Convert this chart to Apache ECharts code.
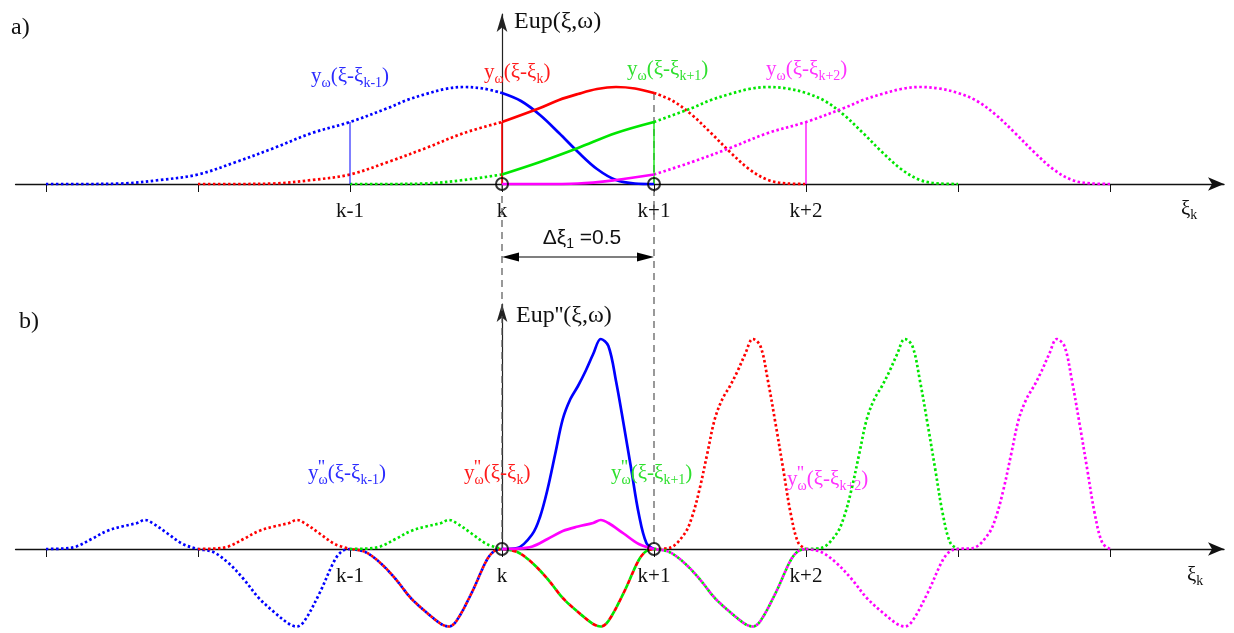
<!DOCTYPE html>
<html>
<head>
<meta charset="utf-8">
<script src="https://cdn.jsdelivr.net/npm/echarts@6.0.0/dist/echarts.min.js"></script>
<style>
  html, body { margin: 0; padding: 0; background: #fff; }
  #chart { width: 1234px; height: 633px; }
</style>
</head>
<body>
<div id="chart"></div>
<script>
// Eup(xi, w): profile read off panel a), t = distance from left end of the support
const upT = [0, 0.25, 0.5, 0.75, 1, 1.25, 1.5, 1.75, 2, 2.25, 2.375, 2.5, 2.625, 2.75, 2.875,
  3, 3.125, 3.25, 3.375, 3.5, 3.625, 3.75, 3.875, 4];
const upY = [0, 0, 0.5, 4, 9.5, 22, 36, 51, 62, 76, 84, 90, 95, 97, 95.5,
  91, 83, 69, 51, 32, 15, 4, 0.5, 0];

// Eup''(xi, w): profile read off panel b)
const d2T = [0, 0.1, 0.2, 0.3, 0.4, 0.5, 0.6, 0.65, 0.7, 0.8, 0.9, 1,
  1.1, 1.2, 1.3, 1.4, 1.5, 1.6, 1.65, 1.7, 1.8, 1.9, 1.95, 2,
  2.1, 2.2, 2.3, 2.4, 2.5, 2.6, 2.65, 2.7, 2.8, 2.9, 2.95, 3,
  3.1, 3.2, 3.25, 3.3, 3.35, 3.4, 3.45, 3.5, 3.55, 3.6, 3.65, 3.7, 3.75, 3.8, 3.85, 3.9, 3.95, 4];
const d2Y = [0, 0.3, 2.5, 10, 18, 22.5, 26, 29, 26, 15.5, 5, 0,
  -3, -14, -30, -49, -63, -75, -77.5, -72, -44, -11, -2, 0,
  -3, -14, -30, -49, -63, -75, -77.5, -72, -44, -11, -2, 0,
  1, 15, 32, 60, 95, 130, 150, 163, 178, 195, 210, 203, 168, 125, 80, 35, 6, 0];

// shifted copies y_w(xi - xi_j), j = k-1 .. k+2 (support starts at j-2)
const curveSubs = ['k-1', 'k', 'k+1', 'k+2'];
const curveShift = [-3, -2, -1, 0];
const curveColors = ['#0000ff', '#ff0000', '#00e600', '#ff00ff'];
const labelColors = ['#2b2bff', '#ff1a1a', '#2ee02e', '#ff33ff'];

// where two curves lie on top of each other in panel b): [unit, curve, curve]
const overlaps = [[-1, 0, 1], [0, 1, 2], [1, 2, 3]];

const tickValues = [-3, -2, -1, 0, 1, 2, 3, 4];
const labelValues = [-1, 0, 1, 2];
const labelTexts = ['k-1', 'k', 'k+1', 'k+2'];
const nodes = [[0, 0], [1, 0]];

const SERIF = '"Liberation Serif", "Times New Roman", serif';
const SANS = '"Liberation Sans", Arial, sans-serif';
const DOT = [2.5, 2.5];

const chart = echarts.init(document.getElementById('chart'));

function seg(T, Y, shift, a, b) {
  const out = [];
  T.forEach((t, i) => {
    if (t >= a - 1e-9 && t <= b + 1e-9) out.push([+(t + shift).toFixed(4), Y[i]]);
  });
  return out;
}

function unitStyle(panel, c, xu) {
  if (panel === 1) {
    const pair = overlaps.find(p => p[0] === xu && (p[1] === c || p[2] === c));
    if (pair) {
      const dash = xu === 0 ? [5, 5] : DOT;
      return { type: dash, offset: pair[2] === c ? dash[0] : 0, lock: true };
    }
  }
  return xu === 0 ? { type: 'solid' } : { type: DOT };
}

const series = [];
[0, 1].forEach(panel => {
  const T = panel ? d2T : upT;
  const Y = panel ? d2Y : upY;
  curveShift.forEach((sh, c) => {
    const runs = [];
    for (let u = 0; u < 4; u++) {
      const st = unitStyle(panel, c, u + sh);
      const last = runs[runs.length - 1];
      if (last && !st.lock && !last.st.lock && JSON.stringify(last.st) === JSON.stringify(st)) last.b = u + 1;
      else runs.push({ a: u, b: u + 1, st });
    }
    runs.forEach(r => series.push({
      type: 'line',
      xAxisIndex: panel,
      yAxisIndex: panel,
      data: seg(T, Y, sh, r.a, r.b),
      smooth: 0.35,
      showSymbol: false,
      clip: false,
      silent: true,
      lineStyle: { color: curveColors[c], width: 2.7, type: r.st.type, dashOffset: r.st.offset || 0, cap: 'butt' },
      z: r.st.type === 'solid' ? 4 : 3,
    }));
  });
});

// thin verticals from the axis to each curve at its own node
const midVal = upY[upT.indexOf(2)];
const vertWidth = [1, 1.6, 1.3, 1.3];
curveShift.forEach((sh, c) => {
  series.push({
    type: 'line', xAxisIndex: 0, yAxisIndex: 0,
    data: [[sh + 2, 0], [sh + 2, midVal]],
    showSymbol: false, clip: false, silent: true,
    lineStyle: { color: curveColors[c], width: vertWidth[c] },
    z: 3,
  });
});

[0, 1].forEach(panel => {
  series.push({
    type: 'scatter', xAxisIndex: panel, yAxisIndex: panel,
    data: nodes, symbol: 'circle', symbolSize: 12, silent: true,
    itemStyle: { color: 'rgba(0,0,0,0)', borderColor: '#000', borderWidth: 2 },
    z: 6,
  });
});

function xAxisFor(i) {
  return {
    type: 'value', gridIndex: i, min: -3.2, max: 4.75,
    axisLine: { show: true, onZero: true, lineStyle: { color: '#111', width: 1.4 },
      symbol: ['none', 'arrow'], symbolSize: [10, 16] },
    axisTick: { show: true, customValues: tickValues, length: 8, lineStyle: { color: '#111', width: 1 } },
    axisLabel: { show: true, customValues: labelValues, formatter: v => labelTexts[labelValues.indexOf(v)] || '',
      margin: 17, color: '#111', fontFamily: SERIF, fontSize: 21 },
    splitLine: { show: false },
  };
}

function yAxisFor(i, max) {
  return {
    type: 'value', gridIndex: i, min: 0, max,
    axisLine: { show: true, onZero: true, lineStyle: { color: '#222', width: 1.2 },
      symbol: ['none', 'arrow'], symbolSize: [8, 18] },
    axisTick: { show: false },
    axisLabel: { show: false },
    splitLine: { show: false },
  };
}

chart.setOption({
  animation: false,
  backgroundColor: '#fff',
  grid: [
    { left: 15.6, width: 1208.4, top: 14, height: 170 },
    { left: 15.6, width: 1208.4, top: 304, height: 245 },
  ],
  xAxis: [xAxisFor(0), xAxisFor(1)],
  yAxis: [yAxisFor(0, 170), yAxisFor(1, 245)],
  series,
});

const px = (g, v) => chart.convertToPixel({ gridIndex: g }, v);
const a0 = px(0, [0, 0]);
const a1 = px(0, [1, 0]);
const b0 = px(1, [0, 0]);
const redAt1 = px(0, [1, upY[upT.indexOf(3)]]);
const dimY = 257;

function curveLabel(x, y, c, prime) {
  const col = labelColors[c];
  const rich = {
    m: { fontSize: 21, fontFamily: SERIF, lineHeight: 28, fill: col },
    s: { fontSize: 14, fontFamily: SERIF, lineHeight: 14, verticalAlign: 'bottom', fill: col },
  };
  const els = [{
    type: 'text', x, y, z: 5,
    style: { text: '{m|y}{s|ω}{m|(ξ-ξ}{s|' + curveSubs[c] + '}{m|)}', rich, align: 'left', verticalAlign: 'middle' },
  }];
  if (prime) {
    els.push({ type: 'text', x: x + 10, y: y - 5, z: 5,
      style: { text: "''", fontSize: 19, fontFamily: SERIF, fill: col, align: 'left', verticalAlign: 'middle' } });
  }
  return els;
}

const plain = (text, x, y, size) => ({
  type: 'text', x, y, z: 5,
  style: { text, fontSize: size, fontFamily: SERIF, fill: '#111', align: 'left', verticalAlign: 'middle' },
});

const xiK = (x, y) => ({
  type: 'text', x, y, z: 5,
  style: {
    text: '{m|ξ}{s|k}', align: 'left', verticalAlign: 'middle',
    rich: {
      m: { fontSize: 21, fontFamily: SERIF, lineHeight: 26, fill: '#111' },
      s: { fontSize: 14, fontFamily: SERIF, lineHeight: 14, verticalAlign: 'bottom', fill: '#111' },
    },
  },
});

const guide = { stroke: '#555', lineWidth: 1.2, lineDash: [7, 5] };

const graphic = [
  { type: 'line', z: 1, shape: { x1: a0[0], y1: a0[1], x2: b0[0], y2: b0[1] }, style: guide },
  { type: 'line', z: 1, shape: { x1: a1[0], y1: redAt1[1], x2: a1[0], y2: b0[1] }, style: guide },
  { type: 'line', z: 1, shape: { x1: a0[0] + 10, y1: dimY, x2: a1[0] - 10, y2: dimY },
    style: { stroke: '#555', lineWidth: 1.5 } },
  { type: 'polygon', z: 1, shape: { points: [[a0[0], dimY], [a0[0] + 17, dimY - 4.5], [a0[0] + 17, dimY + 4.5]] },
    style: { fill: '#000' } },
  { type: 'polygon', z: 1, shape: { points: [[a1[0], dimY], [a1[0] - 17, dimY - 4.5], [a1[0] - 17, dimY + 4.5]] },
    style: { fill: '#000' } },
  { type: 'text', x: (a0[0] + a1[0]) / 2 + 4, y: 238, z: 5,
    style: {
      text: '{m|Δξ}{s|1}{m| =0.5}', align: 'center', verticalAlign: 'middle',
      rich: {
        m: { fontSize: 21, fontFamily: SANS, lineHeight: 26, fill: '#111' },
        s: { fontSize: 14, fontFamily: SANS, lineHeight: 14, verticalAlign: 'bottom', fill: '#111' },
      },
    } },
  plain('a)', 11, 28, 24),
  plain('b)', 19, 322, 24),
  plain('Eup(ξ,ω)', 514, 22, 24),
  plain("Eup''(ξ,ω)", 516, 316, 24),
  xiK(1181, 209),
  xiK(1187, 575),
  ...curveLabel(311, 76, 0, false),
  ...curveLabel(484, 72, 1, false),
  ...curveLabel(627, 69, 2, false),
  ...curveLabel(766, 69, 3, false),
  ...curveLabel(308, 473, 0, true),
  ...curveLabel(464, 473, 1, true),
  ...curveLabel(611, 473, 2, true),
  ...curveLabel(787, 479, 3, true),
];

chart.setOption({ graphic });
</script>
</body>
</html>
